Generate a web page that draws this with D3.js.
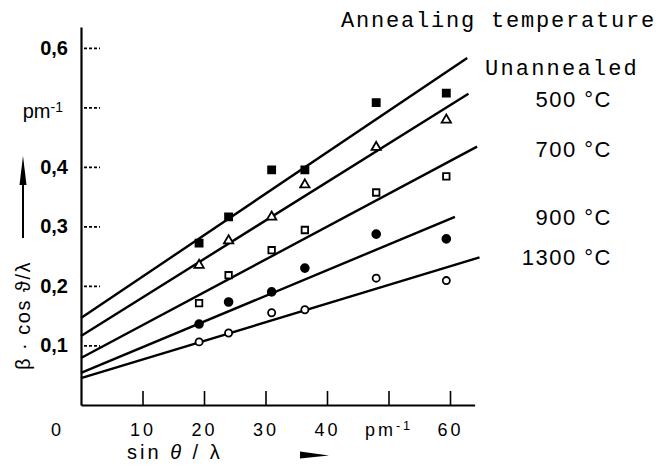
<!DOCTYPE html>
<html>
<head>
<meta charset="utf-8">
<script src="https://cdn.jsdelivr.net/npm/d3@7"></script>
<style>
  body { margin: 0; background: #fff; }
  svg { display: block; }
</style>
</head>
<body>
<svg id="svgx"></svg>
<script>
// reflections, sin(theta)/lambda in pm^-1
const sinTheta = [19.2, 24.0, 31.0, 36.4, 48.0, 59.4];

// beta*cos(theta)/lambda for each annealing state
const unannealed = [0.272, 0.316, 0.395, 0.395, 0.508, 0.524];
const t500 = [0.235, 0.276, 0.316, 0.370, 0.433, 0.479];
const t700 = [0.171, 0.218, 0.260, 0.294, 0.357, 0.384];
const t900 = [0.136, 0.173, 0.190, 0.230, 0.287, 0.279];
const t1300 = [0.106, 0.121, 0.155, 0.160, 0.213, 0.209];

// straight fit lines: value at 0, and the end point
const fitStart = [0.146, 0.116, 0.079, 0.054, 0.045];
const fitEndX = [62.8, 63.0, 64.4, 60.8, 64.8];
const fitEndY = [0.583, 0.523, 0.434, 0.316, 0.248];

const seriesNames = ["Unannealed", "500 °C", "700 °C", "900 °C", "1300 °C"];

const xTicks = [0, 10, 20, 30, 40, 50, 60];
const xTickLabels = ["0", "10", "20", "30", "40", "pm-1", "60"];
const yTicks = [0.1, 0.2, 0.3, 0.4, 0.5, 0.6];
const yTickLabels = ["0,1", "0,2", "0,3", "0,4", "pm-1", "0,6"];

const width = 661, height = 469;
const svg = d3.select('#svgx').attr('width', width).attr('height', height);

const x = d3.scaleLinear().domain([0, 64]).range([81, 474.6]);
const y = d3.scaleLinear().domain([0, 0.635]).range([405, 27]);

const sans = '"Liberation Sans", Arial, sans-serif';
const mono = '"Liberation Mono", "Courier New", monospace';

// unit label "pm^-1" as tspans
function unitText(sel) {
  sel.text(null);
  sel.append('tspan').text('pm');
  sel.append('tspan').attr('dy', '-0.45em').style('font-size', '0.7em').text('-1');
}

// x axis
const xAxisG = svg.append('g')
  .attr('transform', `translate(0,${y(0)})`)
  .call(d3.axisBottom(x).tickValues(xTicks).tickSizeInner(-14).tickSizeOuter(0)
    .tickPadding(18).tickFormat((d, i) => xTickLabels[i]));
xAxisG.select('.domain').attr('stroke-width', 2.2);
xAxisG.selectAll('.tick line').attr('stroke-width', 1.6);
xAxisG.selectAll('.tick').filter(d => d === 0).select('line').remove();
xAxisG.selectAll('.tick text')
  .style('font-family', sans).style('font-size', '18px').style('letter-spacing', '3px')
  .attr('fill', '#000')
  .each(function(d, i) {
    const t = d3.select(this);
    if (d === 0) t.attr('x', -24);
    if (xTickLabels[i] === 'pm-1') unitText(t);
  });

// y axis
const yAxisG = svg.append('g')
  .attr('transform', `translate(${x(0)},0)`)
  .call(d3.axisLeft(y).tickValues(yTicks).tickSizeInner(-16).tickSizeOuter(0)
    .tickPadding(30).tickFormat((d, i) => yTickLabels[i]));
yAxisG.select('.domain').attr('stroke-width', 2.2);
yAxisG.selectAll('.tick line').attr('stroke-width', 1.8).attr('stroke-dasharray', '3,2')
  .attr('transform', 'translate(3,0)');
yAxisG.selectAll('.tick text')
  .style('font-family', sans).style('font-size', '20px').style('font-weight', 700)
  .attr('fill', '#000').attr('x', -13)
  .each(function(d, i) {
    const t = d3.select(this);
    if (yTickLabels[i] === 'pm-1') { unitText(t); t.attr('x', -18).attr('dy', '0.5em').style('font-weight', 400); }
  });

// fit lines
const line = d3.line().x(d => x(d[0])).y(d => y(d[1]));
svg.append('g').selectAll('path.fit')
  .data(fitStart.map((v, i) => [[0, v], [fitEndX[i], fitEndY[i]]]))
  .enter().append('path')
  .attr('class', 'fit')
  .attr('d', line)
  .attr('fill', 'none')
  .attr('stroke', '#000')
  .attr('stroke-width', 2.4);

// data points
const series = [
  { values: unannealed, type: d3.symbolSquare, size: 50, filled: true },
  { values: t500, type: d3.symbolTriangle, size: 38, filled: false },
  { values: t700, type: d3.symbolSquare, size: 42, filled: false },
  { values: t900, type: d3.symbolCircle, size: 48, filled: true },
  { values: t1300, type: d3.symbolCircle, size: 40, filled: false }
];
series.forEach(s => {
  svg.append('g').selectAll('path')
    .data(s.values.map((v, i) => [sinTheta[i], v]))
    .enter().append('path')
    .attr('transform', d => `translate(${x(d[0])},${y(d[1])})`)
    .attr('d', d3.symbol().type(s.type).size(s.size))
    .attr('fill', s.filled ? '#000' : '#fff')
    .attr('stroke', '#000')
    .attr('stroke-width', 1.8);
});

// legend
svg.append('text')
  .attr('x', 341).attr('y', 27)
  .style('font-family', mono).style('font-size', '22px').style('letter-spacing', '1.8px')
  .text('Annealing temperature');

svg.append('text')
  .attr('x', 485).attr('y', 75)
  .style('font-family', mono).style('font-size', '22px').style('letter-spacing', '2.2px')
  .text(seriesNames[0]);

const legendY = [107, 157, 225, 265];
svg.append('g').selectAll('text')
  .data(seriesNames.slice(1))
  .enter().append('text')
  .attr('x', 612).attr('y', (d, i) => legendY[i])
  .attr('text-anchor', 'end')
  .style('font-family', sans).style('font-size', '22px').style('letter-spacing', '1.5px')
  .text(d => d);

// y axis title with arrow
svg.append('text')
  .attr('transform', `translate(30,370) rotate(-90)`)
  .style('font-family', sans).style('font-size', '20px').style('letter-spacing', '1.5px')
  .text('β · cos ϑ/λ');
svg.append('line')
  .attr('x1', 23).attr('x2', 23).attr('y1', 238).attr('y2', 175)
  .attr('stroke', '#000').attr('stroke-width', 2);
svg.append('path')
  .attr('d', 'M23,156 L19.5,185 L26.5,185 Z')
  .attr('fill', '#000');

// x axis title with arrow
const xt = svg.append('text')
  .attr('x', 127).attr('y', 459)
  .style('font-family', sans).style('font-size', '20px').style('letter-spacing', '3px');
xt.append('tspan').text('sin ');
xt.append('tspan').style('font-style', 'italic').text('θ');
xt.append('tspan').text(' / λ');
svg.append('path')
  .attr('d', 'M300,451.5 L300,458.5 L329,455.5 Z')
  .attr('fill', '#000');
</script>
</body>
</html>
